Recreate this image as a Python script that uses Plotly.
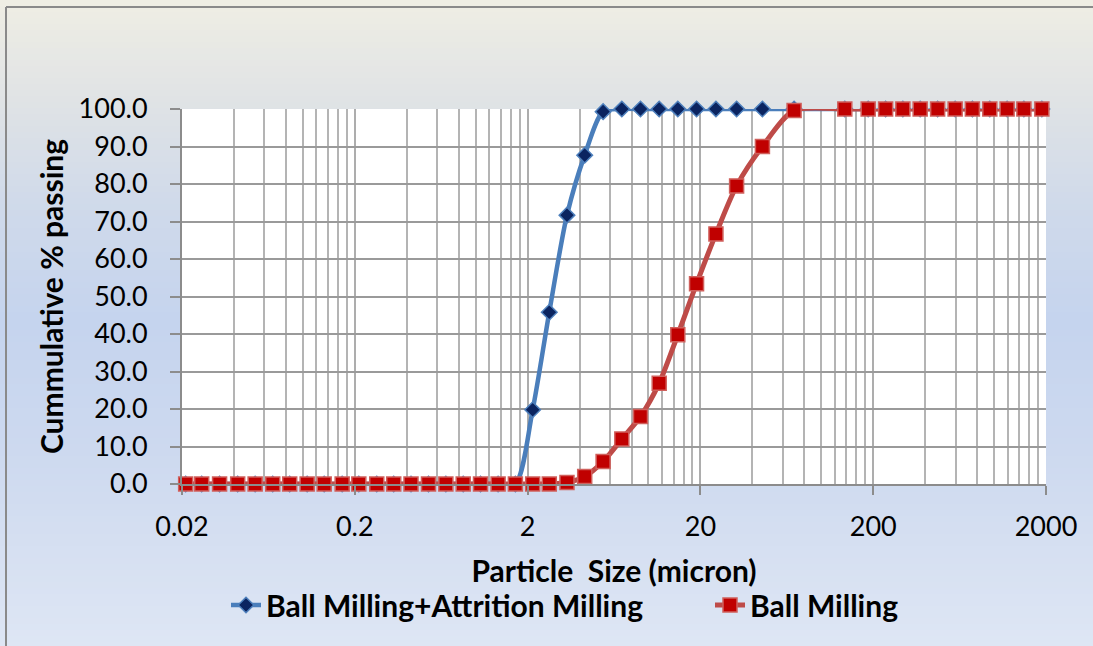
import plotly.graph_objects as go

# particle size classes (micron), shared by both series
sizes = [0.021, 0.026, 0.033, 0.042, 0.053, 0.067, 0.084, 0.106, 0.133, 0.169,
         0.211, 0.268, 0.336, 0.423, 0.534, 0.673, 0.848, 1.068, 1.35, 1.70,
         2.14, 2.67, 3.38, 4.28, 5.47, 7.02, 9.0, 11.55, 14.8, 19.0,
         24.6, 32.4, 45.7, 69.7, 137, 187, 236, 297, 374, 472,
         596, 750, 946, 1191, 1490, 1893]

ball_attrition = [0.0, 0.0, 0.0, 0.0, 0.0, 0.0, 0.0, 0.0, 0.0, 0.0,
                  0.0, 0.0, 0.0, 0.0, 0.0, 0.0, 0.0, 0.0, 0.0, 0.0,
                  19.8, 45.8, 71.7, 87.7, 99.3, 100.0, 100.0, 100.0, 100.0, 100.0,
                  100.0, 100.0, 100.0, 100.0, 100.0, 100.0, 100.0, 100.0, 100.0, 100.0,
                  100.0, 100.0, 100.0, 100.0, 100.0, 100.0]

ball_only = [0.0, 0.0, 0.0, 0.0, 0.0, 0.0, 0.0, 0.0, 0.0, 0.0,
             0.0, 0.0, 0.0, 0.0, 0.0, 0.0, 0.0, 0.0, 0.0, 0.0,
             0.0, 0.0, 0.4, 2.0, 6.0, 12.0, 18.0, 26.9, 39.8, 53.4,
             66.7, 79.5, 90.0, 99.6, 100.0, 100.0, 100.0, 100.0, 100.0, 100.0,
             100.0, 100.0, 100.0, 100.0, 100.0, 100.0]

x_ticks = [0.02, 0.2, 2, 20, 200, 2000]
x_ticktext = ['0.02', '0.2', '2', '20', '200', '2000']
x_minor = [0.02 * k * 10 ** d for d in range(5) for k in range(2, 10)]

W, H = 1093, 646
L, R, T, B = 182, 47, 109, 162
FONT = 'Lato'

fig = go.Figure()
fig.add_trace(go.Scatter(
    x=sizes, y=ball_attrition, name='Ball Milling+Attrition Milling',
    mode='lines+markers', cliponaxis=False, legend='legend',
    line=dict(color='#4A7EBB', width=4.5, shape='spline', smoothing=0.8),
    marker=dict(symbol='diamond', size=12, color='#0B2460',
                line=dict(color='#4F81BD', width=1.5)),
))
fig.add_trace(go.Scatter(
    x=sizes, y=ball_only, name='Ball Milling',
    mode='lines+markers', cliponaxis=False, legend='legend2',
    line=dict(color='#BE4B48', width=5, shape='spline', smoothing=0.8),
    marker=dict(symbol='square', size=14, color='#C00000',
                line=dict(color='#D0605C', width=1.5)),
))

# background gradient, drawn as thin bands in paper coords
stops = [(0, (239, 238, 228)), (100, (224, 227, 229)), (200, (208, 218, 234)),
         (320, (197, 212, 238)), (450, (205, 217, 239)), (646, (222, 230, 244))]

def col_at(py):
    for (p0, c0), (p1, c1) in zip(stops[:-1], stops[1:]):
        if p0 <= py <= p1:
            t = (py - p0) / (p1 - p0)
            return 'rgb(%d,%d,%d)' % tuple(round(a + (b - a) * t) for a, b in zip(c0, c1))
    return 'rgb(%d,%d,%d)' % stops[-1][1]

pw, ph = W - L - R, H - T - B
def px(x):
    return (x - L) / pw
def py_(y):
    return (H - B - y) / ph

shapes = []
step = 6
for y in range(0, H, step):
    shapes.append(dict(type='rect', xref='paper', yref='paper', layer='below',
                       x0=px(0), x1=px(W), y0=py_(y + step + 1), y1=py_(y),
                       fillcolor=col_at(y + step / 2), line=dict(width=0)))
# white plot area on top of the gradient
shapes.append(dict(type='rect', xref='paper', yref='paper', layer='below',
                   x0=0, x1=1, y0=0, y1=1, fillcolor='white', line=dict(width=0)))
# outer chart border (top and left)
shapes.append(dict(type='line', xref='paper', yref='paper', layer='below',
                   x0=px(6), x1=px(W + 5), y0=py_(7), y1=py_(7),
                   line=dict(color='#8A8A8A', width=2)))
shapes.append(dict(type='line', xref='paper', yref='paper', layer='below',
                   x0=px(6), x1=px(6), y0=py_(7), y1=py_(H + 5),
                   line=dict(color='#8A8A8A', width=2)))

legend_font = dict(family=FONT, size=30, weight='bold')
fig.update_layout(
    width=W, height=H,
    margin=dict(l=L, r=R, t=T, b=B, autoexpand=False),
    paper_bgcolor='#DCE3F0', plot_bgcolor='rgba(0,0,0,0)',
    font=dict(family=FONT, color='black', size=27),
    shapes=shapes,
    showlegend=True,
    legend=dict(orientation='h', x=px(226), xanchor='left', y=py_(605), yanchor='middle',
                bgcolor='rgba(0,0,0,0)', font=legend_font),
    legend2=dict(orientation='h', x=px(710), xanchor='left', y=py_(605), yanchor='middle',
                 bgcolor='rgba(0,0,0,0)', font=legend_font),
)

fig.update_xaxes(
    type='log', range=[-1.69897, 3.30103],
    tickmode='array', tickvals=x_ticks, ticktext=x_ticktext,
    ticks='outside', ticklen=9, tickwidth=2, tickcolor='#8C8C8C',
    ticklabelstandoff=9,
    showgrid=True, gridcolor='#ADADAD', gridwidth=2,
    minor=dict(tickmode='array', tickvals=x_minor, showgrid=True,
               gridcolor='#B4B4B4', gridwidth=2, ticks=''),
    showline=True, linecolor='#8C8C8C', linewidth=2, zeroline=False,
    title=dict(text='Particle  Size (micron)', standoff=20,
               font=dict(family=FONT, size=30, weight='bold')),
    automargin=False, tickfont=dict(size=27),
)
fig.update_yaxes(
    range=[0, 100], dtick=10, tickformat='.1f',
    ticks='outside', ticklen=10, tickwidth=2, tickcolor='#8C8C8C',
    ticklabelstandoff=17,
    showgrid=True, gridcolor='#9A9A9A', gridwidth=2,
    showline=True, linecolor='#8C8C8C', linewidth=2, zeroline=False,
    title=dict(text='Cummulative % passing', standoff=6,
               font=dict(family=FONT, size=30, weight='bold')),
    automargin=False, tickfont=dict(size=27),
)

fig.write_html('out.html', config={'displayModeBar': False},
               post_script="document.body.style.margin='0px';")
